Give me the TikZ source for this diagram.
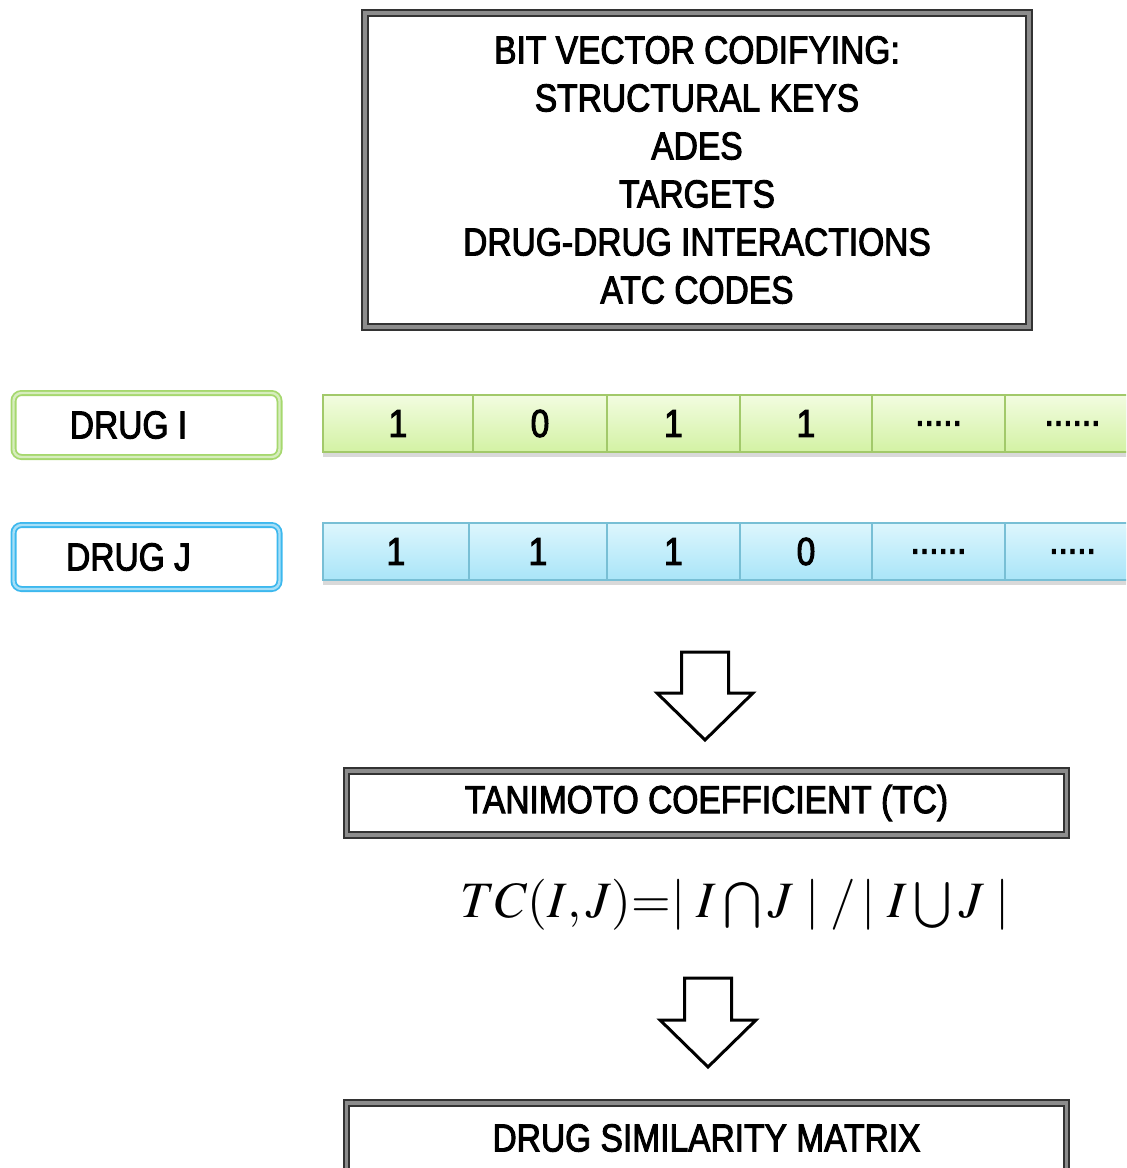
\documentclass[tikz,border=0pt]{standalone}
\usepackage{mathptmx}
\usepackage{fontspec}
\setmainfont[FakeStretch=0.86,FakeBold=2.5]{Liberation Sans}
\usetikzlibrary{shadows}

\definecolor{gline}{HTML}{A2C96A}
\definecolor{gtop}{HTML}{F2FCE0}
\definecolor{gbot}{HTML}{D3F2A4}
\definecolor{gframe}{HTML}{A6D86E}
\definecolor{bline}{HTML}{78BFD5}
\definecolor{btop}{HTML}{DDF6FD}
\definecolor{bbot}{HTML}{A9E5F8}
\definecolor{bframe}{HTML}{3CB8EE}

\begin{document}
\begin{tikzpicture}[x=0.5pt,y=-0.5pt,
  font=\fontsize{19.5}{24}\selectfont,
  framebox/.style={draw=black!80, double=black!45, line width=1pt, double distance=1.6pt, fill=white, inner sep=0pt},
  drugbox/.style={rounded corners=4pt, line width=0.9pt, double distance=1.2pt, fill=white, minimum width=133pt, minimum height=32pt},
  gbit/.style={draw=gline, line width=0.6pt, top color=gtop, bottom color=gbot, minimum height=28.5pt, inner sep=0pt},
  bbit/.style={draw=bline, line width=0.6pt, top color=btop, bottom color=bbot, minimum height=28.5pt, inner sep=0pt},
  rowshadow/.style={fill=white, drop shadow={shadow xshift=0pt, shadow yshift=-2.5pt, opacity=0.3}},
  blockarrow/.style={draw=black, line width=1.5pt, fill=white, line join=miter}]
\useasboundingbox (0,0) rectangle (1126,1168);
\clip (0,0) rectangle (1126,1168);

% codified features
\node[framebox, minimum width=332pt, minimum height=157pt, align=center] (codes) at (697,170)
  {BIT VECTOR CODIFYING:\\STRUCTURAL KEYS\\ADES\\TARGETS\\DRUG-DRUG INTERACTIONS\\ATC CODES};

% drugs
\node[drugbox, draw=gframe, double=gframe!45] (drugi) at (146.5,425) {DRUG I\hspace*{18pt}\mbox{}};
\node[drugbox, draw=bframe, double=bframe!45] (drugj) at (146.5,557) {DRUG J\hspace*{18pt}\mbox{}};

% bit vectors
\path[rowshadow] (323,395) rectangle (1140,452);
\path[rowshadow] (323,523) rectangle (1140,580);
\foreach \b/\x/\w [count=\i] in {1/398/75, 0/540/67, 1/673.5/66.5, 1/806/66, {.....}/938.5/66.5, {......}/1072.5/67.5}
  \node[gbit, minimum width=\w pt] (bi\i) at (\x,423.5) {\b};
\foreach \b/\x/\w [count=\i] in {1/396/73, 1/538/69, 1/673.5/66.5, 0/806/66, {......}/938.5/66.5, {.....}/1072.5/67.5}
  \node[bbit, minimum width=\w pt] (bj\i) at (\x,551.5) {\b};

% first step
\coordinate (tip1) at (705,740);
\draw[blockarrow] (tip1) -- ++(-48,-47) -- ++(24.5,0) -- ++(0,-41) -- ++(47,0) -- ++(0,41) -- ++(24.5,0) -- cycle;

\node[framebox, minimum width=360pt, minimum height=32pt] (tc) at (706.5,803) {TANIMOTO COEFFICIENT (TC)};
\node[font=\fontsize{25.5}{30}\selectfont, inner sep=0pt] (formula) at (735,905)
  {$TC(I,J){=}|\;I\mathbin{\textstyle\bigcap}J\;|\;/\,|\;I\mathbin{\textstyle\bigcup}J\;|$};

% second step
\coordinate (tip2) at (708,1067);
\draw[blockarrow] (tip2) -- ++(-48,-47) -- ++(24.5,0) -- ++(0,-42) -- ++(47,0) -- ++(0,42) -- ++(24.5,0) -- cycle;

\node[framebox, minimum width=360pt, minimum height=35pt] (matrix) at (706.5,1138) {DRUG SIMILARITY MATRIX};
\end{tikzpicture}
\end{document}
